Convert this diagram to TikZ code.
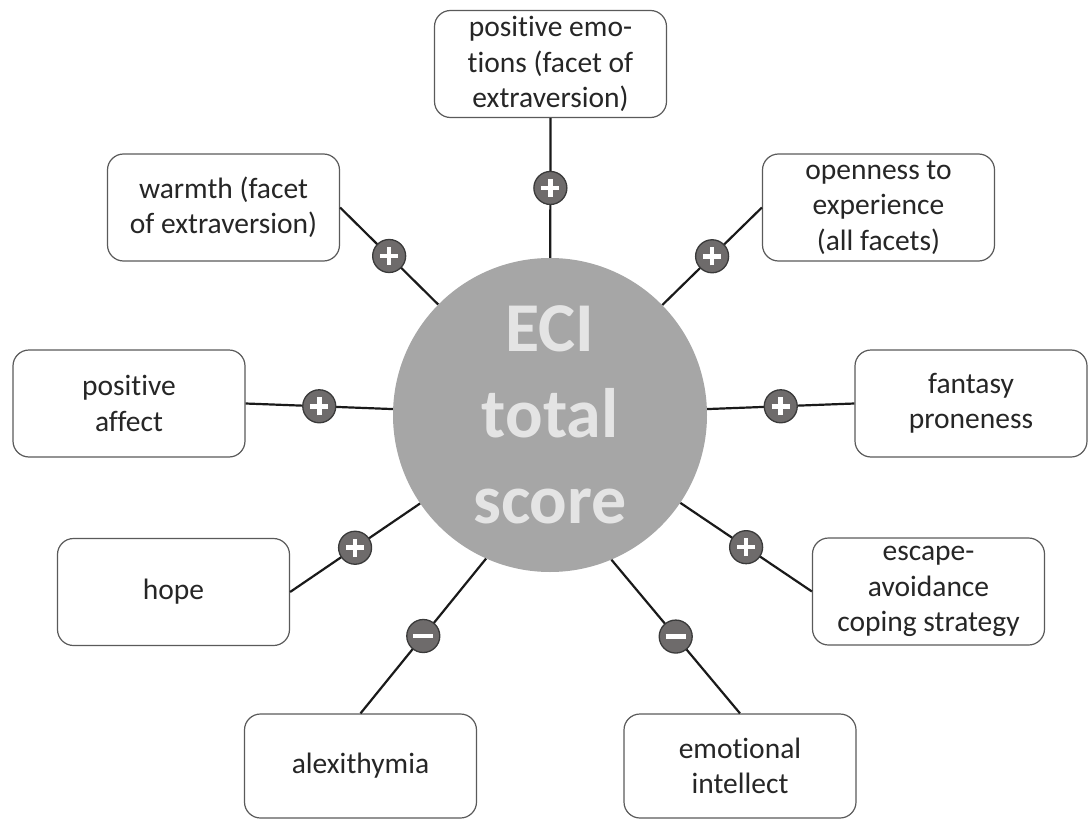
\documentclass[tikz,border=0pt]{standalone}
\usepackage{fontspec}
\setmainfont{Carlito}[Ligatures=NoCommon]
\usetikzlibrary{positioning}

\definecolor{hubfill}{HTML}{A6A6A6}
\definecolor{hubtext}{HTML}{E4E4E4}
\definecolor{boxline}{HTML}{5A5A5A}
\definecolor{boxtext}{HTML}{262626}
\definecolor{linkline}{HTML}{1A1A1A}
\definecolor{badgefill}{HTML}{6E6B6B}
\definecolor{badgeline}{HTML}{3A3A3A}

\tikzset{
  hub/.style={circle, fill=hubfill, draw=none, minimum size=314pt, inner sep=0pt,
    text=hubtext, align=center, font=\fontsize{70}{86}\selectfont\bfseries},
  facetbox/.style={draw=boxline, line width=1.2pt, rounded corners=16pt, fill=white,
    minimum width=232pt, minimum height=107pt, inner sep=0pt, align=center,
    text=boxtext, font=\fontsize{29.5}{35.5}\selectfont},
  lowbox/.style={facetbox, minimum height=104pt},
  link/.style={draw=linkline, line width=2.2pt},
  badge/.style={circle, fill=badgefill, draw=badgeline, line width=1.3pt,
    minimum size=33pt, inner sep=0pt},
  plusbadge/.style={badge, path picture={
    \draw[white, line width=4.5pt]
      (path picture bounding box.center) +(-9pt,0pt) -- +(9pt,0pt)
      (path picture bounding box.center) +(0pt,-9pt) -- +(0pt,9pt);}},
  minusbadge/.style={badge, path picture={
    \draw[white, line width=4.8pt]
      (path picture bounding box.center) +(-10pt,0pt) -- +(10pt,0pt);}},
}

\begin{document}
\begin{tikzpicture}[x=1pt, y=-1pt]
  \useasboundingbox (0,0) rectangle (1088,819);

  % central score
  \node[hub] (eci) at (550,415) {ECI\\total\\score};

  % correlates
  \node[facetbox] (pe)   at (550.5,64)   {positive emo-\\tions (facet of\\extraversion)};
  \node[facetbox] (warm) at (223.5,207.5) {warmth (facet\\of extraversion)};
  \node[facetbox] (open) at (878.5,207.5) {openness to\\experience\\(all facets)};
  \node[facetbox] (pa)   at (129,403.5)  {positive\\affect};
  \node[facetbox] (fp)   at (971,403.5)  {fantasy\\proneness};
  \node[facetbox] (hope) at (173.5,592)  {hope};
  \node[facetbox] (esc)  at (928.5,591.5) {escape-\\avoidance\\coping strategy};
  \node[lowbox]   (alex) at (360.5,766)  {alexithymia};
  \node[lowbox]   (ei)   at (740,766)    {emotional\\intellect};

  % links with sign of association
  \draw[link] (eci) -- (pe.south)   node[plusbadge, pos=0.5] (spe) {};
  \draw[link] (eci) -- (warm.east)  node[plusbadge, pos=0.5] (swarm) {};
  \draw[link] (eci) -- (open.west)  node[plusbadge, pos=0.5] (sopen) {};
  \draw[link] (eci) -- (pa.east)    node[plusbadge, pos=0.5] (spa) {};
  \draw[link] (eci) -- (fp.west)    node[plusbadge, pos=0.5] (sfp) {};
  \draw[link] (eci) -- (hope.east)  node[plusbadge, pos=0.5] (shope) {};
  \draw[link] (eci) -- (esc.west)   node[plusbadge, pos=0.5] (sesc) {};
  \draw[link] (eci.246.5) -- (alex.north) node[minusbadge, pos=0.5] (salex) {};
  \draw[link] (eci.293.5) -- (ei.north)   node[minusbadge, pos=0.5] (sei) {};
\end{tikzpicture}
\end{document}
